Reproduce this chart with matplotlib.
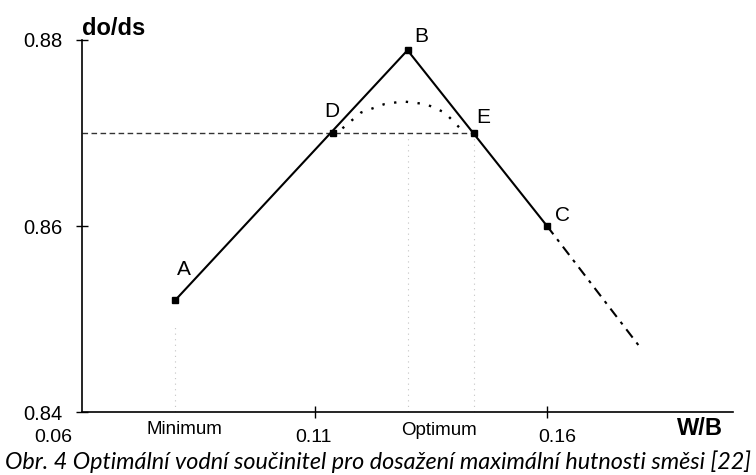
import matplotlib
matplotlib.use("Agg")
import matplotlib.pyplot as plt

# points (W/B, do/ds)
point_names = ["A", "D", "B", "E", "C"]
point_x = [0.08, 0.1139, 0.130, 0.1443, 0.160]
point_y = [0.852, 0.870, 0.8789, 0.870, 0.860]

# main broken line A -> B -> C
line_x = [0.08, 0.130, 0.160]
line_y = [0.852, 0.8789, 0.860]

# dash-dot extension after C
ext_x = [0.160, 0.1798]
ext_y = [0.860, 0.8471]

# dotted curve between D and E
curve_x = [0.1160, 0.1200, 0.1250, 0.1290, 0.1340, 0.1380, 0.1417]
curve_y = [0.8705, 0.8722, 0.8731, 0.8734, 0.8731, 0.8722, 0.8703]

# faint vertical guides: (x, y_top)
guide_x = [0.08, 0.130, 0.1443]
guide_top = [0.8492, 0.8695, 0.870]

# label offsets in pixels from the point
label_offsets = {"A": (9, 31), "D": (-1, 22), "B": (14, 14), "E": (9, 16), "C": (15, 11)}

plt.rcParams['font.family'] = ['Liberation Sans', 'DejaVu Sans']

fig = plt.figure(figsize=(7.56, 4.75), dpi=100)
ax = fig.add_axes([0.1085, 0.1326, 0.8611, 0.7832])

ax.set_xlim(0.06, 0.20)
ax.set_ylim(0.84, 0.88)

for s in ["top", "right"]:
    ax.spines[s].set_visible(False)
ax.spines["left"].set_linewidth(1.2)
ax.spines["bottom"].set_linewidth(1.2)

ax.set_yticks([0.84, 0.86, 0.88])
ax.set_yticklabels(["0.84", "0.86", "0.88"], fontsize=14.5)
ax.set_xticks([0.11, 0.16])
ax.set_xticklabels([])
ax.tick_params(direction="inout", length=8, width=1.0, pad=10)
ax.tick_params(axis="x", length=9)

# guides
for gx, gt in zip(guide_x, guide_top):
    ax.plot([gx, gx], [0.84, gt], ls=(0, (1, 4)), color="#c4c4c4", lw=0.8)
ax.plot([0.06, point_x[3]], [0.870, 0.870], ls=(0, (4, 2.5)), color="#333333", lw=1.0)

ax.plot(line_x, line_y, color="black", lw=1.5)
ax.plot(ext_x, ext_y, color="black", lw=1.5, ls=(0, (5, 3, 1.5, 3)))
ax.plot(curve_x, curve_y, color="black", lw=1.7, ls=(0, (1, 4)))
ax.plot(point_x, point_y, ls="none", marker="s", ms=4, color="black")

for name, px, py in zip(point_names, point_x, point_y):
    dx, dy = label_offsets[name]
    ax.annotate(name, (px, py), xytext=(dx, dy), textcoords="offset pixels",
                ha="center", va="center", fontsize=15)

# axis texts
ax.text(0.0601, 0.88124, "do/ds", fontsize=17, fontweight="bold", ha="left", va="center", clip_on=False)
ax.text(0.1929, 0.83828, "W/B", fontsize=17, fontweight="bold", ha="center", va="center", clip_on=False)
ax.text(0.082, 0.8381, "Minimum", fontsize=13.5, ha="center", va="center", clip_on=False)
ax.text(0.1367, 0.8380, "Optimum", fontsize=13.5, ha="center", va="center", clip_on=False)
for lx, lt in zip([0.0538, 0.1097, 0.1621], ["0.06", "0.11", "0.16"]):
    ax.text(lx, 0.83725, lt, fontsize=14, ha="center", va="center", clip_on=False)

fig.text(0.5, 0.029, "Obr. 4 Optimální vodní součinitel pro dosažení maximální hutnosti směsi [22]",
         fontsize=16.8, style="italic", family=["Lato", "DejaVu Sans"], ha="center", va="center")

fig.savefig("out.png", dpi=100)
